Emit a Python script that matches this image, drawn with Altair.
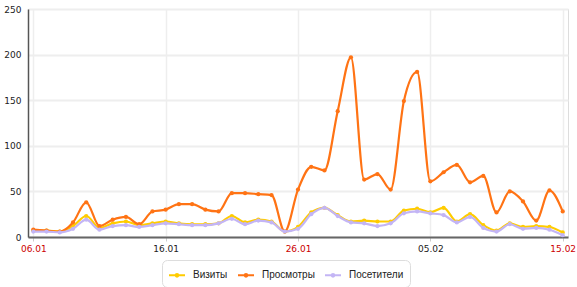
import altair as alt
import pandas as pd

dates = [d.strftime("%d.%m") for d in pd.date_range("2013-01-06", "2013-02-15", freq="D")]
series_names = ["Визиты", "Просмотры", "Посетители"]
series_colors = ["#FFCC00", "#FF7314", "#C3B5F5"]

visits = [7, 7, 6, 12, 23, 10, 15, 17, 13, 15, 17, 15, 14, 14, 15, 23, 16, 19, 17, 6,
          11, 27, 32, 24, 17, 18, 17, 17, 29, 31, 27, 32, 17, 25, 13, 7, 15, 11, 12, 11, 5]
views = [8, 7, 6, 16, 38, 12, 19, 22, 14, 28, 30, 36, 36, 30, 28, 48, 48, 47, 46, 6,
         52, 77, 73, 138, 197, 63, 69, 52, 149, 181, 61, 71, 79, 60, 67, 27, 50, 39, 18, 51, 28]
visitors = [6, 6, 5, 9, 19, 8, 12, 13, 11, 13, 15, 14, 13, 13, 15, 20, 14, 18, 16, 6,
            9, 25, 32, 23, 16, 15, 12, 15, 26, 28, 26, 24, 16, 22, 10, 6, 14, 9, 10, 8, 2]

tick_days = [0, 10, 20, 30, 40]
red_ticks = [0, 20, 40]
y_ticks = [0, 50, 100, 150, 200, 250]

rows = []
for name, vals in zip(series_names, [visits, views, visitors]):
    for i, v in enumerate(vals):
        rows.append({"day": i, "date": dates[i], "series": name, "value": v})
df = pd.DataFrame(rows)

label_arr = "[" + ",".join("'%s'" % dates[i] for i in range(len(dates))) + "]"
red_expr = " || ".join("datum.value == %d" % d for d in red_ticks)

xenc = alt.X("day:Q",
             scale=alt.Scale(domain=[-0.4, 40.4], nice=False, zero=False),
             axis=alt.Axis(values=tick_days, title=None,
                           labelExpr=label_arr + "[datum.value]",
                           labelColor={"expr": "(%s) ? '#cc0000' : '#222222'" % red_expr},
                           labelFont="DejaVu Sans", labelFontSize=9, labelPadding=3,
                           ticks=True, tickSize=4, tickColor="#cccccc",
                           domainColor="#666666", domainWidth=2,
                           grid=True, gridColor="#eeeeee", gridWidth=1.5))
yenc = alt.Y("value:Q",
             scale=alt.Scale(domain=[0, 250], nice=False),
             axis=alt.Axis(values=y_ticks, title=None, ticks=False,
                           labelFont="DejaVu Sans", labelFontSize=9, labelColor="#222222",
                           labelPadding=7, domainColor="#555555", domainWidth=1.5,
                           grid=True, gridColor="#eeeeee", gridWidth=2))

color = alt.Color("series:N",
                  scale=alt.Scale(domain=series_names, range=series_colors),
                  legend=alt.Legend(title=None, orient="none", direction="horizontal",
                                    legendX=134, legendY=251,
                                    symbolType="M-1,0H1M0.16,0A0.16,0.16,0,1,1,-0.16,0A0.16,0.16,0,1,1,0.16,0",
                                    symbolSize=256, symbolStrokeWidth=2,
                                    labelFont="Liberation Sans", labelFontSize=10,
                                    labelColor="#222222", labelOffset=7,
                                    columnPadding=6, padding=6,
                                    strokeColor="#dddddd", cornerRadius=5,
                                    fillColor="white"))

layers = []
for name in series_names:
    base = alt.Chart(df).transform_filter(alt.datum.series == name)
    layers.append(base.mark_line(interpolate="monotone", strokeWidth=2.2).encode(
        x=xenc, y=yenc, color=color))
    layers.append(base.mark_point(filled=True, size=18, opacity=1).encode(
        x=xenc, y=yenc, color=color))

chart = alt.layer(*layers).properties(
    width=540, height=228,
    autosize=alt.AutoSizeParams(type="none"),
    padding={"left": 28, "top": 9, "right": 9, "bottom": 50},
).configure_view(stroke=None).configure(background="white")

chart.save("out.html", embed_options={"renderer": "svg", "actions": False})
